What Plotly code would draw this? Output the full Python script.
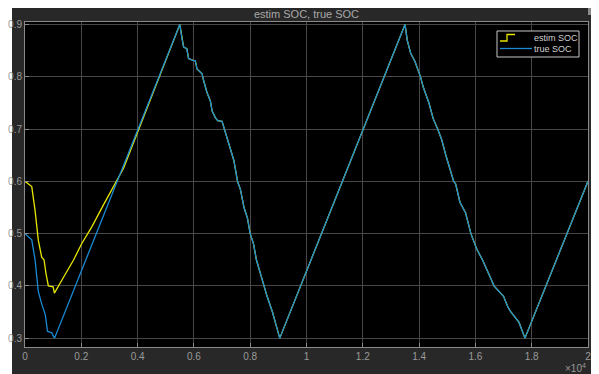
import plotly.graph_objects as go

# ---- data (time in s, SOC fraction) ----
true_time = [0, 180, 240, 360, 470, 590, 680, 720, 800, 950, 1050,
             5500, 5575, 5635, 5750, 5810, 5990, 6050, 6110, 6290, 6345,
             6465, 6585, 6645, 6760, 6845, 7000, 7120, 7300, 7420, 7550,
             7650, 7780, 7900, 8000, 8120, 8220, 8350, 8470, 8600, 8790,
             8900, 9050,
             13500, 13580, 13700, 13850, 14050, 14150, 14350, 14500, 14660,
             14800, 14950, 15230, 15300, 15450, 15650, 15840, 16050, 16250,
             16500, 16660, 17000, 17150, 17260, 17550, 17760,
             20000]
true_soc = [0.50, 0.49, 0.488, 0.449, 0.39, 0.366, 0.349, 0.345, 0.313, 0.31, 0.30,
            0.90, 0.873, 0.857, 0.854, 0.835, 0.831, 0.831, 0.815, 0.806, 0.793,
            0.77, 0.754, 0.735, 0.722, 0.716, 0.715, 0.693, 0.665, 0.64, 0.60,
            0.585, 0.55, 0.53, 0.50, 0.48, 0.45, 0.425, 0.40, 0.38, 0.35,
            0.33, 0.30,
            0.90, 0.87, 0.845, 0.83, 0.80, 0.78, 0.75, 0.72, 0.70, 0.68,
            0.65, 0.60, 0.595, 0.56, 0.54, 0.50, 0.47, 0.45, 0.42, 0.40,
            0.38, 0.36, 0.35, 0.33, 0.30,
            0.60]

est_early_time = [0, 180, 240, 356, 415, 474, 593, 676, 747, 830, 1000, 1044,
                  1363, 1719, 2017, 2373, 2787, 3262, 3500]
est_early_soc = [0.60, 0.593, 0.59, 0.545, 0.52, 0.487, 0.455, 0.45, 0.423, 0.40,
                 0.398, 0.386, 0.416, 0.449, 0.481, 0.513, 0.555, 0.602, 0.625]

# after ~3500 s the estimate lies on top of the true SOC
est_time = est_early_time + [t for t in true_time if t > 3500]
est_soc = est_early_soc + [v for t, v in zip(true_time, true_soc) if t > 3500]

series_names = ["estim SOC", "true SOC"]
series_colors = ["#e6e600", "#1a8ad4"]

x_tick_vals = [0, 2000, 4000, 6000, 8000, 10000, 12000, 14000, 16000, 18000, 20000]
x_tick_text = ["0", "0.2", "0.4", "0.6", "0.8", "1", "1.2", "1.4", "1.6", "1.8", "2"]
y_tick_vals = [0.3, 0.4, 0.5, 0.6, 0.7, 0.8, 0.9]

TXT = "#9a9a9a"
FONT = "Liberation Sans, Arial, sans-serif"

fig = go.Figure()
fig.add_trace(go.Scatter(x=est_time, y=est_soc, mode="lines", name=series_names[0],
                         line=dict(color=series_colors[0], width=1.3)))
fig.add_trace(go.Scatter(x=true_time, y=true_soc, mode="lines", name=series_names[1],
                         line=dict(color=series_colors[1], width=1.3)))

# page has an 8px body margin, so figure coords = page coords - 8
W, H = 591, 366
ml, mr, mt, mb = 17, 11, 14, 27
pw, ph = W - ml - mr, H - mt - mb

def px(xf):
    return (xf - ml) / pw

def py(yf):
    return (H - mb - yf) / ph

def path(points):
    return "M" + " L".join(f"{px(a):.5f},{py(b):.5f}" for a, b in points)

shapes = [
    dict(type="rect", xref="paper", yref="paper", layer="below",
         x0=px(4), x1=px(W + 5), y0=py(H + 5), y1=py(-5),
         fillcolor="#282828", line=dict(width=0)),
    dict(type="rect", xref="paper", yref="paper", layer="below",
         x0=0, x1=1, y0=0, y1=1, fillcolor="#000000", line=dict(width=0)),
    # undock icon (top right of figure window)
    dict(type="rect", xref="paper", yref="paper", layer="above",
         x0=px(580), x1=px(588), y0=py(7), y1=py(0),
         fillcolor="#8a8a8a", line=dict(width=0)),
    # legend box
    dict(type="rect", xref="paper", yref="paper", layer="above",
         x0=px(489), x1=px(571), y0=py(49), y1=py(23),
         fillcolor="#000000", line=dict(color="#c8c8c8", width=1)),
    # legend icons: stairs for estimate, line for true
    dict(type="path", xref="paper", yref="paper", layer="above",
         path=path([(492, 33), (499, 33), (499, 26.5), (507, 26.5)]),
         line=dict(color=series_colors[0], width=1.3)),
    dict(type="line", xref="paper", yref="paper", layer="above",
         x0=px(492), x1=px(524), y0=py(40.5), y1=py(40.5),
         line=dict(color=series_colors[1], width=1.3)),
]

annotations = [
    dict(text="×10<sup>4</sup>", xref="paper", yref="paper",
         x=1, y=py(360), xanchor="right", yanchor="middle",
         showarrow=False, font=dict(family=FONT, size=10, color=TXT)),
    dict(text=series_names[0], xref="paper", yref="paper",
         x=px(524), y=py(30), xanchor="left", yanchor="middle",
         showarrow=False, font=dict(family=FONT, size=9, color="#d0d0d0")),
    dict(text=series_names[1], xref="paper", yref="paper",
         x=px(524), y=py(40.5), xanchor="left", yanchor="middle",
         showarrow=False, font=dict(family=FONT, size=9, color="#d0d0d0")),
]

fig.update_layout(
    width=W, height=H,
    margin=dict(l=ml, r=mr, t=mt, b=mb, autoexpand=False),
    paper_bgcolor="white", plot_bgcolor="black",
    font=dict(family=FONT, size=10, color=TXT),
    title=dict(text="estim SOC, true SOC", x=(ml + pw / 2) / W, xanchor="center",
               y=1 - 6 / H, yanchor="middle",
               font=dict(family=FONT, size=11, color="#a8a8a8")),
    showlegend=False,
    shapes=shapes,
    annotations=annotations,
)
fig.update_xaxes(range=[0, 20000], tickvals=x_tick_vals, ticktext=x_tick_text,
                 showgrid=True, gridcolor="#474747", gridwidth=1,
                 showline=True, mirror=True, linecolor="#8a8a8a", linewidth=1,
                 ticks="inside", ticklen=4, tickcolor="#8a8a8a",
                 zeroline=False, automargin=False, tickfont=dict(color=TXT, size=10))
fig.update_yaxes(range=[0.283, 0.905], tickvals=y_tick_vals,
                 showgrid=True, gridcolor="#474747", gridwidth=1,
                 showline=True, mirror=True, linecolor="#8a8a8a", linewidth=1,
                 ticks="inside", ticklen=4, tickcolor="#8a8a8a",
                 zeroline=False, automargin=False, tickfont=dict(color=TXT, size=10))

fig.write_html("out.html")
